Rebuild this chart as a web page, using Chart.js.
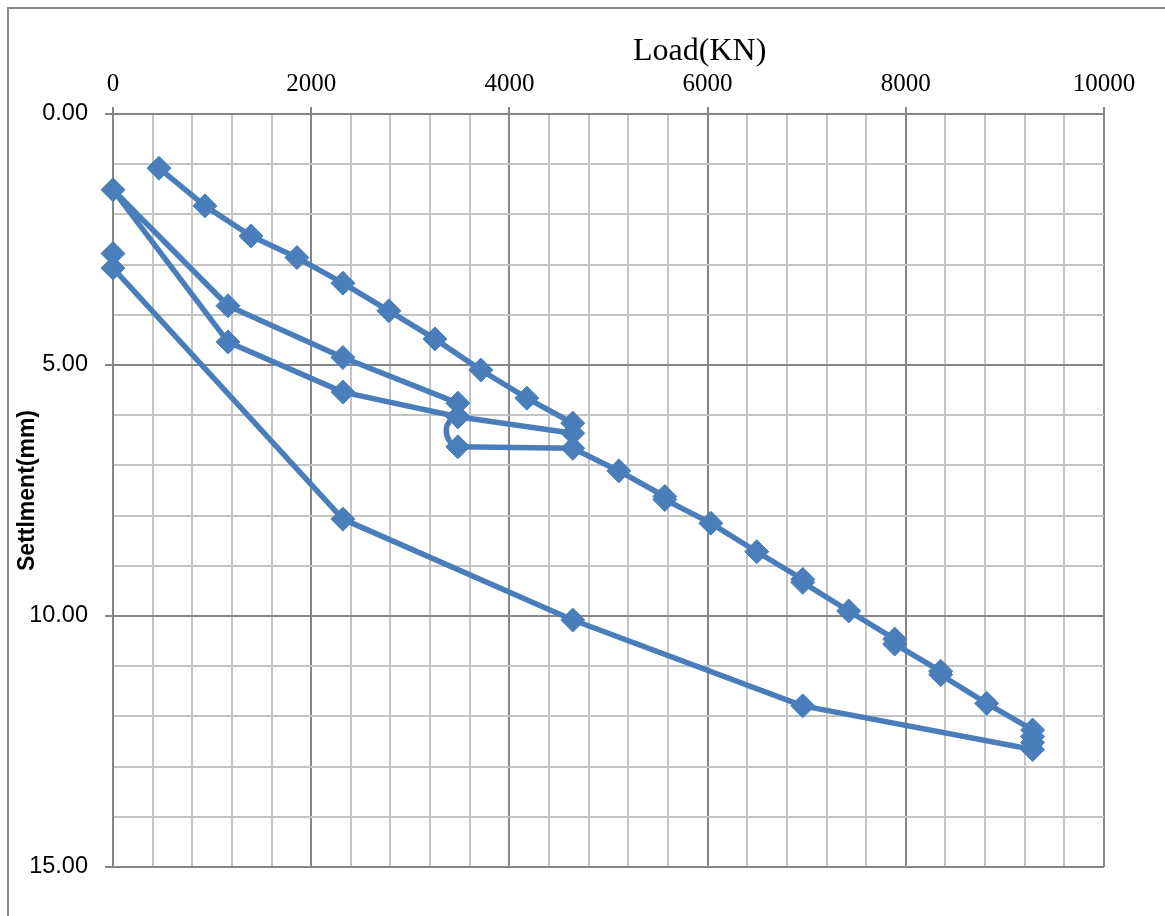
<!DOCTYPE html>
<html>
<head>
<meta charset="utf-8">
<script src="https://cdn.jsdelivr.net/npm/chart.js@4.4.1/dist/chart.umd.min.js"></script>
<style>
  html, body { margin: 0; padding: 0; background: #fff; overflow: hidden; }
  #wrap { position: relative; width: 1165px; height: 916px; overflow: hidden; }
  #frame { position: absolute; left: 7px; top: 7px; width: 1300px; height: 1100px;
           border: 2px solid #8a8a8a; box-sizing: border-box; }
  #c { position: absolute; left: 0; top: 0; }
</style>
</head>
<body>
<div id="wrap">
  <div id="frame"></div>
  <canvas id="c" width="1165" height="916"></canvas>
</div>
<script>
// Pile load test, in test order: load (kN) and settlement (mm)
// cycle 1: load to 4640 kN, unload to 0; cycle 2: reload to 9280 kN, unload to 0
const loadKN = [
  464, 928, 1392, 1856, 2320, 2784, 3248, 3712, 4176, 4640, 4640,
  3480, 3480, 2320, 1160, 0,
  1160, 2320, 3480, 3480, 4640,
  5104, 5568, 5568, 6032, 6496, 6960, 6960, 7424, 7888, 7888, 8352, 8352, 8816,
  9280, 9280, 9280, 9280,
  6960, 4640, 2320, 0, 0
];
const settlementMm = [
  1.08, 1.83, 2.43, 2.86, 3.37, 3.92, 4.48, 5.10, 5.66, 6.16, 6.36,
  6.03, 5.76, 4.85, 3.82, 1.51,
  4.54, 5.54, 6.03, 6.63, 6.66,
  7.11, 7.62, 7.68, 8.15, 8.72, 9.27, 9.33, 9.90, 10.46, 10.56, 11.10, 11.17, 11.74,
  12.27, 12.40, 12.52, 12.66,
  11.79, 10.08, 8.07, 3.07, 2.78
];

// Labelled ticks; the grid in between is drawn every 400 kN and every 1 mm
const loadTickLabels = [0, 2000, 4000, 6000, 8000, 10000];
const settlementTickLabels = [0, 5, 10, 15];

// Hold at 3480 kN during reloading, drawn as a smoothed curve;
// the outer two readings only steer the curve's shape
const holdStart = 18;                       // 3480 kN, first reading on reload
const holdNeighbours = [10, 18, 19, 20];    // 4640 (cycle 1), 3480, 3480, 4640 (cycle 2)

const points = loadKN.map((x, i) => ({ x: x, y: settlementMm[i] }));
const holdPoints = holdNeighbours.map(i => points[i]);

const BLUE = '#4a7ebb';
const MAJOR = '#868686';
const MINOR = '#c4c4c4';
const HIDDEN = 'rgba(0,0,0,0)';

const axisTitlePlugin = {
  id: 'loadTitle',
  afterDraw(chart) {
    const { ctx, chartArea } = chart;
    ctx.save();
    ctx.font = '32px "Liberation Serif"';
    ctx.fillStyle = '#000';
    ctx.textAlign = 'center';
    ctx.textBaseline = 'middle';
    const x = chartArea.left + (chartArea.right - chartArea.left) * 0.592;
    ctx.fillText('Load(KN)', x, chartArea.top - 62);
    ctx.restore();
  }
};

new Chart(document.getElementById('c'), {
  type: 'scatter',
  data: {
    datasets: [
      {
        // smoothed hold segment, drawn underneath
        data: holdPoints,
        showLine: true,
        tension: 0.65,
        borderColor: BLUE,
        borderWidth: 5.5,
        pointRadius: 0,
        clip: false,
        segment: { borderColor: c => c.p0DataIndex === 1 ? BLUE : HIDDEN }
      },
      {
        data: points,
        showLine: true,
        tension: 0,
        borderColor: BLUE,
        borderWidth: 5.5,
        borderJoinStyle: 'round',
        pointStyle: 'rectRot',
        pointRadius: 12,
        pointBackgroundColor: BLUE,
        pointBorderColor: BLUE,
        pointBorderWidth: 1,
        clip: false,
        segment: { borderColor: c => c.p0DataIndex === holdStart ? HIDDEN : BLUE }
      }
    ]
  },
  options: {
    responsive: false,
    animation: false,
    events: [],
    layout: { padding: { left: 14, top: 0, right: 61, bottom: 49 } },
    plugins: { legend: { display: false }, tooltip: { enabled: false } },
    scales: {
      x: {
        type: 'linear',
        position: 'top',
        min: 0,
        max: 10000,
        afterFit(scale) { scale.height = 114; },
        ticks: {
          stepSize: 400,
          autoSkip: false,
          maxRotation: 0,
          padding: 8,
          color: '#000',
          font: { family: 'Liberation Serif', size: 25 },
          callback: v => loadTickLabels.includes(v) ? String(v) : ''
        },
        grid: {
          lineWidth: 2,
          tickLength: 7,
          color: c => (c.tick && loadTickLabels.includes(c.tick.value)) ? MAJOR : MINOR,
          tickColor: c => (c.tick && loadTickLabels.includes(c.tick.value)) ? MAJOR : HIDDEN
        },
        border: { color: MAJOR, width: 2 }
      },
      y: {
        type: 'linear',
        reverse: true,
        min: 0,
        max: 15,
        afterFit(scale) { scale.width = 99; },
        title: {
          display: true,
          text: 'Settlment(mm)',
          color: '#000',
          padding: { top: 0, bottom: 0 },
          font: { family: 'Liberation Sans', size: 23, weight: 'bold' }
        },
        ticks: {
          stepSize: 1,
          autoSkip: false,
          padding: 17,
          color: '#000',
          font: { family: 'Liberation Sans', size: 23.5 },
          callback: v => settlementTickLabels.includes(v) ? v.toFixed(2) : ''
        },
        grid: {
          lineWidth: 2,
          tickLength: 8,
          color: c => (c.tick && settlementTickLabels.includes(c.tick.value)) ? MAJOR : MINOR,
          tickColor: c => (c.tick && settlementTickLabels.includes(c.tick.value)) ? MAJOR : HIDDEN
        },
        border: { color: MAJOR, width: 2 }
      }
    }
  },
  plugins: [axisTitlePlugin]
});
</script>
</body>
</html>
